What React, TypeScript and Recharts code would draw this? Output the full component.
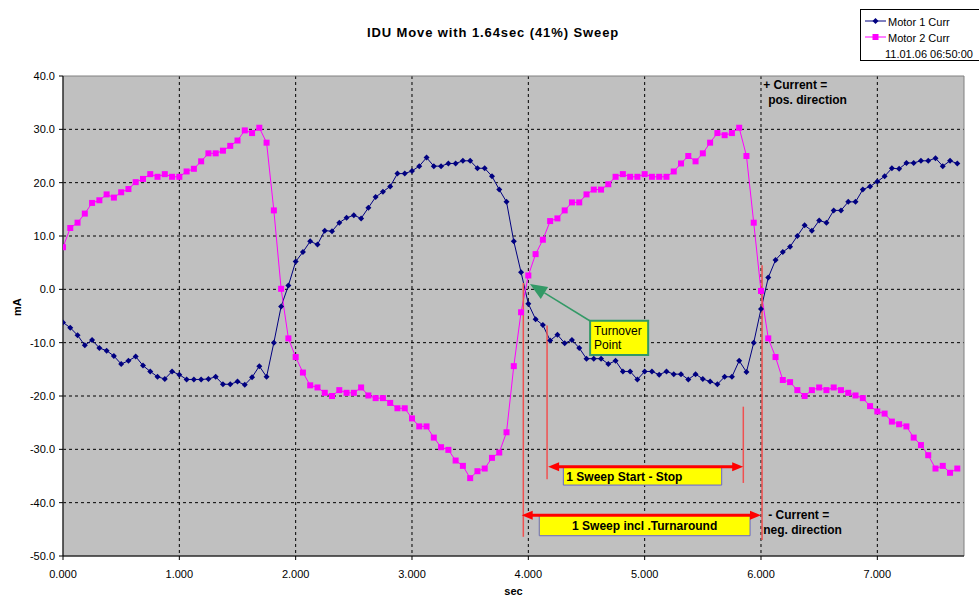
import { LineChart, Line, XAxis, YAxis, CartesianGrid, ReferenceLine, ReferenceArea, ReferenceDot, Legend } from "recharts";

// sample times (s), one sample every 1/16 s
const timeSec = [
  0, 0.0625, 0.125, 0.1875, 0.25, 0.3125, 0.375, 0.4375, 0.5, 0.5625, 0.625, 0.6875, 0.75, 0.8125, 0.875, 0.9375,
  1, 1.0625, 1.125, 1.1875, 1.25, 1.3125, 1.375, 1.4375, 1.5, 1.5625, 1.625, 1.6875, 1.75, 1.8125, 1.875, 1.9375,
  2, 2.0625, 2.125, 2.1875, 2.25, 2.3125, 2.375, 2.4375, 2.5, 2.5625, 2.625, 2.6875, 2.75, 2.8125, 2.875, 2.9375,
  3, 3.0625, 3.125, 3.1875, 3.25, 3.3125, 3.375, 3.4375, 3.5, 3.5625, 3.625, 3.6875, 3.75, 3.8125, 3.875, 3.9375,
  4, 4.0625, 4.125, 4.1875, 4.25, 4.3125, 4.375, 4.4375, 4.5, 4.5625, 4.625, 4.6875, 4.75, 4.8125, 4.875, 4.9375,
  5, 5.0625, 5.125, 5.1875, 5.25, 5.3125, 5.375, 5.4375, 5.5, 5.5625, 5.625, 5.6875, 5.75, 5.8125, 5.875, 5.9375,
  6, 6.0625, 6.125, 6.1875, 6.25, 6.3125, 6.375, 6.4375, 6.5, 6.5625, 6.625, 6.6875, 6.75, 6.8125, 6.875, 6.9375,
  7, 7.0625, 7.125, 7.1875, 7.25, 7.3125, 7.375, 7.4375, 7.5, 7.5625, 7.625, 7.6875,
];

const motor1Curr = [
  -6.2, -7.2, -8.6, -10.5, -9.5, -11.0, -11.5, -12.5, -14.0, -13.4, -12.6, -14.3, -15.4, -16.4, -16.8, -15.4,
  -16.0, -16.9, -16.9, -16.9, -16.8, -16.4, -17.8, -17.8, -17.3, -17.9, -16.5, -14.4, -16.4, -10.0, -3.2, 0.7,
  5.2, 7.0, 9.0, 8.4, 11.0, 10.9, 12.5, 13.4, 13.9, 13.3, 15.3, 17.3, 18.3, 19.3, 21.7, 21.7,
  22.2, 23.1, 24.7, 23.1, 23.1, 23.6, 23.6, 24.1, 24.1, 22.7, 22.7, 21.2, 18.7, 16.4, 9.0, 3.2,
  -2.7, -5.6, -6.7, -9.6, -8.5, -10.1, -9.5, -11.0, -13.0, -13.0, -13.0, -14.0, -13.4, -15.4, -15.4, -16.9,
  -15.4, -15.4, -16.0, -15.4, -15.9, -15.9, -16.9, -15.9, -16.8, -17.3, -17.8, -16.4, -16.4, -13.4, -15.5, -10.0,
  -3.7, 2.2, 5.5, 7.0, 8.0, 10.0, 12.0, 11.0, 12.9, 12.5, 14.8, 14.8, 16.4, 16.4, 18.7, 19.3,
  20.2, 21.2, 22.7, 22.6, 23.7, 23.7, 24.1, 24.1, 24.6, 23.1, 24.1, 23.6,
];

const motor2Curr = [
  7.9, 11.5, 12.5, 14.2, 16.2, 16.7, 17.8, 17.2, 18.2, 18.8, 20.1, 20.7, 21.6, 21.1, 21.6, 21.1,
  21.1, 22.1, 22.6, 24.0, 25.5, 25.5, 26.0, 26.9, 27.9, 29.8, 29.3, 30.3, 27.5, 14.8, 0.1, -9.2,
  -12.7, -15.6, -18.0, -18.4, -19.4, -20.0, -18.9, -19.4, -19.4, -18.4, -19.9, -20.4, -20.4, -21.3, -22.3, -22.3,
  -24.2, -25.7, -25.7, -27.8, -29.6, -30.1, -32.1, -33.1, -35.4, -34.1, -33.6, -31.6, -30.6, -26.8, -14.4, -4.3,
  2.6, 6.6, 9.3, 12.8, 13.3, 14.8, 16.3, 16.3, 17.8, 18.7, 18.7, 19.7, 21.1, 21.6, 21.1, 21.1,
  21.6, 21.1, 21.1, 21.1, 22.1, 23.6, 25.0, 24.0, 25.5, 27.5, 29.3, 28.9, 29.3, 30.3, 25.0, 12.5,
  -0.3, -9.2, -12.7, -17.0, -17.4, -18.9, -20.0, -18.9, -18.4, -18.9, -18.4, -18.9, -19.4, -19.9, -20.4, -21.9,
  -22.9, -23.3, -24.8, -25.3, -25.7, -27.8, -29.2, -31.1, -33.6, -33.1, -34.4, -33.6,
];

const xTicks = [0, 1, 2, 3, 4, 5, 6, 7];
const yTicks = [-50, -40, -30, -20, -10, 0, 10, 20, 30, 40];

const data = timeSec.map((t, i) => ({ t, m1: motor1Curr[i], m2: motor2Curr[i] }));

const FONT = "'Liberation Sans', Arial, sans-serif";
const NAVY = "#000080";
const MAGENTA = "#FF00FF";

const Diamond = (p: any) => {
  const { cx, cy, key } = p;
  if (cx == null || cy == null) return <g key={key} />;
  return <path key={key} d={`M${cx},${cy - 3}L${cx + 3},${cy}L${cx},${cy + 3}L${cx - 3},${cy}Z`} fill={NAVY} />;
};

const Square = (p: any) => {
  const { cx, cy, key } = p;
  if (cx == null || cy == null) return <g key={key} />;
  return <rect key={key} x={cx - 3} y={cy - 3} width={6} height={6} fill={MAGENTA} />;
};

// red double arrow
const DoubleArrow = (p: any) => {
  const { x1, y1, x2, y2 } = p;
  const h = 11;
  const w = 4.5;
  return (
    <g>
      <line x1={x1 + h - 2} y1={y1} x2={x2 - h + 2} y2={y2} stroke="#FF0000" strokeWidth={3} />
      <path d={`M${x1},${y1}L${x1 + h},${y1 - w}L${x1 + h},${y1 + w}Z`} fill="#FF0000" />
      <path d={`M${x2},${y2}L${x2 - h},${y2 - w}L${x2 - h},${y2 + w}Z`} fill="#FF0000" />
    </g>
  );
};

// green pointer, tip at (x2, y2)
const GreenArrow = (p: any) => {
  const { x1, y1, x2, y2 } = p;
  const dx = x2 - x1;
  const dy = y2 - y1;
  const len = Math.sqrt(dx * dx + dy * dy);
  const ux = dx / len;
  const uy = dy / len;
  const hl = 17;
  const hw = 7;
  const bx = x2 - ux * hl;
  const by = y2 - uy * hl;
  return (
    <g>
      <line x1={x1} y1={y1} x2={bx} y2={by} stroke="#339966" strokeWidth={1.5} />
      <path d={`M${x2},${y2}L${bx - uy * hw},${by + ux * hw}L${bx + uy * hw},${by - ux * hw}Z`} fill="#339966" />
    </g>
  );
};

const TwoLines = (lines: string[], dxs: number[], bold: boolean) => (p: any) => {
  const { cx, cy } = p;
  return (
    <g>
      {lines.map((s, i) => (
        <text key={s} x={cx + dxs[i]} y={cy + i * 14.5} fontSize={12} fontWeight={bold ? "bold" : "normal"} fontFamily={FONT} fill="#000">
          {s}
        </text>
      ))}
    </g>
  );
};

const TurnoverLabel = (p: any) => {
  const { x, y } = p.viewBox;
  return (
    <g>
      <text x={x + 4} y={y + 14} fontSize={12} fontFamily={FONT} fill="#000">Turnover</text>
      <text x={x + 4} y={y + 28} fontSize={12} fontFamily={FONT} fill="#000">Point</text>
    </g>
  );
};

const BoxLabel = (text: string, align: "left" | "center") => (p: any) => {
  const { x, y, width, height } = p.viewBox;
  return (
    <text
      x={align === "left" ? x + 3 : x + width / 2}
      y={y + height / 2 + 4.5}
      textAnchor={align === "left" ? "start" : "middle"}
      fontSize={12}
      fontWeight="bold"
      fontFamily={FONT}
      fill="#000"
    >
      {text}
    </text>
  );
};

const LegendBox = () => (
  <div style={{ border: "1px solid #000", background: "#fff", width: 130, height: 52, fontFamily: FONT, fontSize: 11, boxSizing: "border-box", position: "relative" }}>
    <svg width={28} height={40} style={{ position: "absolute", left: 2, top: 4 }}>
      <line x1={2} y1={7} x2={23} y2={7} stroke={NAVY} />
      <path d="M12.5,4L15.5,7L12.5,10L9.5,7Z" fill={NAVY} />
      <line x1={2} y1={23} x2={23} y2={23} stroke={MAGENTA} />
      <rect x={9.5} y={20} width={6} height={6} fill={MAGENTA} />
    </svg>
    <div style={{ position: "absolute", left: 27, top: 4, lineHeight: "16px", whiteSpace: "nowrap" }}>
      <div>Motor 1 Curr</div>
      <div>Motor 2 Curr</div>
      <div style={{ marginLeft: -3 }}>11.01.06 06:50:00</div>
    </div>
  </div>
);

export default function App() {
  return (
    <div style={{ position: "absolute", left: 0, top: 0, width: 979, height: 597, fontFamily: FONT, background: "#fff", overflow: "hidden" }}>
      <div style={{ position: "absolute", left: 0, width: 986, top: 25, textAlign: "center", fontSize: 13, fontWeight: "bold", letterSpacing: 0.9 }}>
        IDU Move with 1.64sec (41%) Sweep
      </div>
      <LineChart width={979} height={597} data={data} margin={{ top: 76, right: 15, bottom: 0, left: 0 }}>
        <CartesianGrid
          fill="#C0C0C0"
          fillOpacity={1}
          stroke="#000"
          strokeDasharray="3 3"
          horizontalValues={[-40, -30, -20, -10, 0, 10, 20, 30]}
          verticalValues={[1, 2, 3, 4, 5, 6, 7]}
        />
        <ReferenceArea x1={0} x2={7.745} y1={-50} y2={40} fill="none" stroke="#808080" strokeWidth={1} ifOverflow="visible" />
        <XAxis
          dataKey="t"
          type="number"
          domain={[0, 7.745]}
          ticks={xTicks}
          interval={0}
          height={41}
          tickFormatter={(v: number) => v.toFixed(3)}
          tick={{ fontSize: 11, fill: "#000", fontFamily: FONT }}
          tickSize={4}
          tickMargin={10}
          stroke="#000"
          allowDataOverflow
          label={{ value: "sec", position: "insideBottom", offset: 2, fontSize: 11, fontWeight: "bold", fill: "#000", fontFamily: FONT }}
        />
        <YAxis
          type="number"
          domain={[-50, 40]}
          ticks={yTicks}
          interval={0}
          width={63}
          tickFormatter={(v: number) => v.toFixed(1)}
          tick={{ fontSize: 11, fill: "#000", fontFamily: FONT }}
          tickSize={4}
          tickMargin={4}
          stroke="#000"
          label={{ value: "mA", angle: -90, position: "insideLeft", offset: 17, fontSize: 11, fontWeight: "bold", fill: "#000", fontFamily: FONT }}
        />
        <Legend layout="vertical" align="center" verticalAlign="middle" content={<LegendBox />} wrapperStyle={{ left: 860, top: 9, width: 130 }} />

        <Line dataKey="m1" name="Motor 1 Curr" stroke={NAVY} strokeWidth={1} dot={Diamond} activeDot={false} isAnimationActive={false} />
        <Line dataKey="m2" name="Motor 2 Curr" stroke={MAGENTA} strokeWidth={1} dot={Square} activeDot={false} isAnimationActive={false} />

        {/* sweep markers */}
        <ReferenceLine segment={[{ x: 3.957, y: 1.2 }, { x: 3.957, y: -46.4 }]} stroke="#F05050" strokeWidth={1.5} />
        <ReferenceLine segment={[{ x: 4.161, y: -6.8 }, { x: 4.161, y: -35.6 }]} stroke="#F05050" strokeWidth={1.5} />
        <ReferenceLine segment={[{ x: 5.848, y: -22.0 }, { x: 5.848, y: -36.3 }]} stroke="#F05050" strokeWidth={1.5} />
        <ReferenceLine segment={[{ x: 6.009, y: 4.5 }, { x: 6.009, y: -47.0 }]} stroke="#F05050" strokeWidth={1.5} />

        <ReferenceArea x1={4.301} x2={5.662} y1={-33.3} y2={-36.7} fill="#FFFF00" fillOpacity={1} stroke="#6666CC" strokeWidth={1} label={{ content: BoxLabel("1 Sweep Start - Stop", "left") }} />
        <ReferenceArea x1={4.094} x2={5.906} y1={-42.4} y2={-46.2} fill="#FFFF00" fillOpacity={1} stroke="#6666CC" strokeWidth={1} label={{ content: BoxLabel("1 Sweep incl .Turnaround", "center") }} />

        <ReferenceLine segment={[{ x: 4.17, y: -33.26 }, { x: 5.847, y: -33.26 }]} shape={DoubleArrow} />
        <ReferenceLine segment={[{ x: 3.943, y: -42.38 }, { x: 6.0, y: -42.38 }]} shape={DoubleArrow} />

        <ReferenceArea x1={4.531} x2={5.03} y1={-5.9} y2={-12.3} fill="#FFFF00" fillOpacity={1} stroke="#339966" strokeWidth={2} label={{ content: TurnoverLabel }} />
        <ReferenceLine segment={[{ x: 4.531, y: -5.94 }, { x: 4.014, y: 0.99 }]} shape={GreenArrow} />

        <ReferenceDot x={6.019} y={37.56} r={0} shape={TwoLines(["+ Current =", "pos. direction"], [0, 5], true)} />
        <ReferenceDot x={6.019} y={-43.07} r={0} shape={TwoLines(["- Current =", "neg. direction"], [5, 0], true)} />
      </LineChart>
    </div>
  );
}
